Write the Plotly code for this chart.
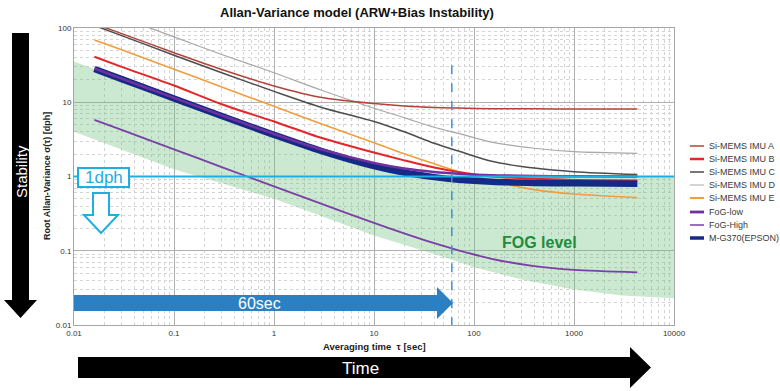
import plotly.graph_objects as go

# ---------------- data ----------------
tau = [0.016, 0.03, 0.1, 0.3, 1, 3, 10, 20, 40, 70, 150, 400, 1000, 4300]
imu_a = [114, 84, 46.5, 27.6, 16.6, 11.6, 9.6, 8.9, 8.5, 8.35, 8.2, 8.15, 8.1, 8.1]
imu_b = [41, 30, 16.8, 9.4, 5.5, 3.3, 2.1, 1.65, 1.32, 1.15, 1.0, 0.93, 0.9, 0.88]
imu_c = [108, 79, 43, 25, 14, 8.5, 5.5, 4.0, 2.8, 2.2, 1.6, 1.3, 1.16, 1.06]
imu_d = [190, 139, 76, 44, 25, 14.5, 8.3, 6.2, 4.6, 3.8, 2.9, 2.4, 2.16, 2.05]
imu_e = [69, 50.8, 27.8, 16.1, 8.8, 5.1, 2.85, 2.03, 1.48, 1.16, 0.875, 0.666, 0.58, 0.518]
fog_low = [28.5, 20.8, 11.45, 6.66, 3.74, 2.31, 1.52, 1.28, 1.15, 1.09, 1.04, 1.016, 1.006, 1.0]
fog_high = [5.8, 4.24, 2.32, 1.34, 0.736, 0.427, 0.2375, 0.1716, 0.1264, 0.101, 0.078, 0.062, 0.0551, 0.0512]
g370 = [28.1, 20.5, 11.25, 6.53, 3.64, 2.2, 1.38, 1.13, 0.98, 0.905, 0.85, 0.82, 0.808, 0.80]

series_names = ["Si-MEMS IMU A", "Si-MEMS IMU B", "Si-MEMS IMU C", "Si-MEMS IMU D",
                "Si-MEMS IMU E", "FoG-low", "FoG-High", "M-G370(EPSON)"]
series_values = [imu_a, imu_b, imu_c, imu_d, imu_e, fog_low, fog_high, g370]

# FOG level band
band_tau_upper = [0.01, 0.03, 0.1, 0.3, 1, 3, 10, 20, 35, 10000]
band_upper = [35.5, 20.5, 11.2, 6.5, 3.6, 2.2, 1.38, 1.13, 1.0, 1.0]
band_tau_lower = [0.01, 0.1, 1, 10, 60, 100, 300, 1000, 3000, 10000]
band_lower = [4.0, 1.25, 0.5, 0.16, 0.076, 0.06, 0.041, 0.030, 0.025, 0.023]

ref_dph = 1.0          # 1 dph reference line
ref_tau = 60           # 60 sec marker
ref_tau_top = 31.6

x_tickvals = [0.01, 0.1, 1, 10, 100, 1000, 10000]
x_ticktext = ["0.01", "0.1", "1", "10", "100", "1000", "10000"]
y_tickvals = [0.01, 0.1, 1, 10, 100]
y_ticktext = ["0.01", "0.1", "1", "10", "100"]

# ---------------- styles ----------------
colors = ["#b5423a", "#e3262a", "#4d4d4d", "#a8a8a8", "#f39c3c", "#7030a0", "#7b3fa8", "#142a86"]
widths = [1.5, 2.0, 1.5, 1.2, 1.6, 2.6, 1.8, 6.5]
legend_widths = [1.5, 2.5, 1.5, 1.0, 2.0, 2.8, 1.5, 3.5]
draw_order = [3, 2, 0, 4, 1, 6, 7, 5]

FONT = "Liberation Sans, Arial, sans-serif"
L, T, W, H = 74, 28, 600, 297  # plot area in screen pixels
FIG_W, FIG_H = 780, 391


def px(x):
    return (x - L) / W


def py(y):
    return (T + H - y) / H


def path(points):
    return "M " + " L ".join(f"{px(a):.5f},{py(b):.5f}" for a, b in points) + " Z"


def note(text, x, y, size, color, angle=0, xanchor="center"):
    return dict(text=text, x=px(x), y=py(y), xref="paper", yref="paper",
                xanchor=xanchor, yanchor="middle", showarrow=False, textangle=angle,
                font=dict(family=FONT, size=size, color=color))


fig = go.Figure()

# green FOG band
fig.add_trace(go.Scatter(
    x=band_tau_upper + band_tau_lower[::-1],
    y=band_upper + band_lower[::-1],
    fill="toself", fillcolor="rgba(110,195,125,0.36)",
    line=dict(width=0), mode="lines", hoverinfo="skip", showlegend=False))

for i in draw_order:
    fig.add_trace(go.Scatter(
        x=tau, y=series_values[i], mode="lines", name=series_names[i],
        line=dict(color=colors[i], width=widths[i], shape="spline", smoothing=0.8),
        showlegend=False))

# 1 dph line
fig.add_trace(go.Scatter(x=[x_tickvals[0], x_tickvals[-1]], y=[ref_dph, ref_dph], mode="lines",
                         line=dict(color="#1faee2", width=2), showlegend=False, hoverinfo="skip"))
# 60 sec dashed line
fig.add_trace(go.Scatter(x=[ref_tau, ref_tau], y=[ref_tau_top, y_tickvals[0]], mode="lines",
                         line=dict(color="#3f8fd2", width=1.5, dash="dash"),
                         showlegend=False, hoverinfo="skip"))

minor_vals = [k * 10 ** n for n in range(-2, 4) for k in range(2, 10)]

axis_common = dict(type="log", showline=True, linecolor="#a6a6a6", linewidth=1, mirror=True,
                   showgrid=True, gridcolor="#b0b0b0", gridwidth=1, zeroline=False,
                   tickmode="array", ticks="",
                   tickfont=dict(family=FONT, size=8, color="#333333"))

fig.update_xaxes(**axis_common, range=[-2, 4], tickvals=x_tickvals, ticktext=x_ticktext,
                 minor=dict(tickvals=minor_vals, showgrid=True, gridcolor="#d4d4d4",
                            griddash="dot", gridwidth=1))
fig.update_yaxes(**axis_common, range=[-2, 2], tickvals=y_tickvals, ticktext=y_ticktext,
                 minor=dict(tickvals=minor_vals, showgrid=True, gridcolor="#d4d4d4",
                            griddash="dot", gridwidth=1))

shapes = []
annotations = []

# Stability arrow (left)
shapes.append(dict(type="path", xref="paper", yref="paper",
                   path=path([(12, 33), (29, 33), (29, 300), (37, 300), (20.5, 318), (4, 300), (12, 300)]),
                   fillcolor="black", line=dict(width=0)))
annotations.append(note("Stability", 21, 172, 15, "white", angle=-90))

# Time arrow (bottom)
shapes.append(dict(type="path", xref="paper", yref="paper",
                   path=path([(78, 357), (630, 357), (630, 347), (651, 367.5), (630, 388), (630, 378), (78, 378)]),
                   fillcolor="black", line=dict(width=0)))
annotations.append(note("Time", 360, 368, 17, "white"))

# 60sec arrow
shapes.append(dict(type="path", xref="paper", yref="paper",
                   path=path([(74, 295), (437, 295), (437, 287), (453, 303), (437, 319), (437, 311), (74, 311)]),
                   fillcolor="#2b80c3", line=dict(width=0)))
annotations.append(note("60sec", 259, 303, 16, "white"))

# 1dph box and outline arrow
shapes.append(dict(type="rect", xref="paper", yref="paper",
                   x0=px(78), x1=px(129), y0=py(187), y1=py(168),
                   fillcolor="white", line=dict(color="#1faee2", width=2)))
annotations.append(note("1dph", 103.5, 177.5, 17, "#1faee2"))
shapes.append(dict(type="path", xref="paper", yref="paper",
                   path=path([(93, 193), (109, 193), (109, 215), (118, 215), (101, 233), (84, 215), (93, 215)]),
                   fillcolor="white", line=dict(color="#1faee2", width=2)))

# FOG level text
annotations.append(note("<b>FOG level</b>", 539, 243, 16, "#1e8c3c"))

# Title and axis titles
annotations.append(note("<b>Allan-Variance model (ARW+Bias Instability)</b>", 357, 12, 13, "#111111"))
annotations.append(note("<b>Averaging time  τ [sec]</b>", 374, 347, 9.5, "#222222"))
annotations.append(note("<b>Root Allan-Variance σ(τ) [dph]</b>", 47, 176, 9, "#222222", angle=-90))

# custom legend
legend_y = [146, 159, 172, 185, 198, 212, 225, 238]
for name, col, lw, yy in zip(series_names, colors, legend_widths, legend_y):
    shapes.append(dict(type="line", xref="paper", yref="paper",
                       x0=px(690), x1=px(704), y0=py(yy), y1=py(yy),
                       line=dict(color=col, width=lw)))
    annotations.append(note(name, 707, yy, 9, "#3a3a3a", xanchor="left"))

fig.update_layout(
    width=FIG_W, height=FIG_H,
    margin=dict(l=L, r=FIG_W - L - W, t=T, b=FIG_H - T - H),
    plot_bgcolor="white", paper_bgcolor="white",
    showlegend=False,
    shapes=shapes, annotations=annotations,
    font=dict(family=FONT),
)

fig.write_html("out.html", config={"displayModeBar": False},
               post_script="document.body.style.margin='0';document.body.style.overflow='hidden';")
